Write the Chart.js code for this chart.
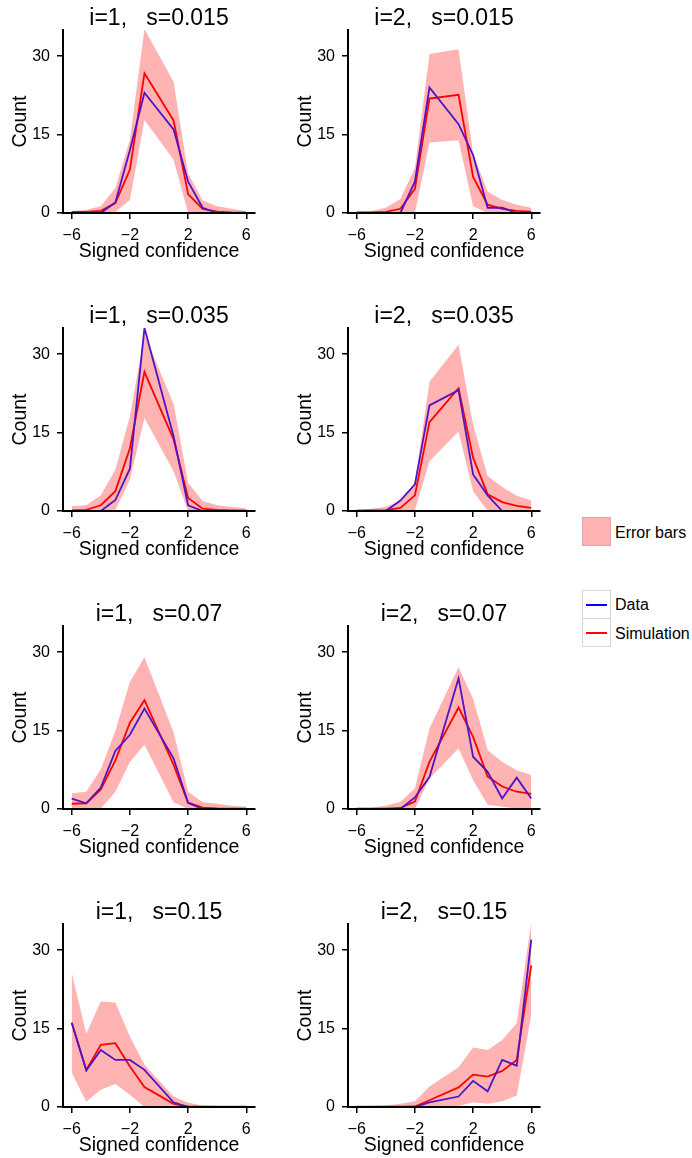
<!DOCTYPE html>
<html lang="en">
<head>
    <meta charset="UTF-8">
    <title>Signed confidence histograms</title>
    <script src="https://cdn.jsdelivr.net/npm/chart.js"></script>
    <style>
        body {
            margin: 0;
            width: 692px;
            height: 1158px;
            background: #fff;
            position: relative;
            overflow: hidden;
            font-family: "Liberation Sans", Arial, sans-serif;
        }
        canvas.panel {
            position: absolute;
        }
        .legend-text {
            position: absolute;
            left: 615px;
            font-size: 16px;
            line-height: 16px;
            color: #000;
            white-space: nowrap;
        }
        #patch {
            position: absolute;
            left: 582px; top: 517px;
            width: 27px; height: 27px;
            background: #ffb3b3;
            border: 1px solid #e3a3a3;
        }
        .line-box {
            position: absolute;
            left: 582px;
            width: 27px; height: 27px;
            border: 1px solid #d6d6d6;
        }
        .line-box span {
            position: absolute;
            left: 3px; right: 3px; top: 13px;
            height: 2px;
        }
    </style>
</head>
<body>
    <div id="patch"></div>
    <div class="legend-text" style="top:525px">Error bars</div>

    <div class="line-box" style="top:590px"><span style="background:#0000ff"></span></div>
    <div class="line-box" style="top:618px"><span style="background:#ff0000"></span></div>
    <div class="legend-text" style="top:597px">Data</div>
    <div class="legend-text" style="top:626px">Simulation</div>

    <script>
        // x positions (no zero bin)
        const confLevels = [-6, -5, -4, -3, -2, -1, 1, 2, 3, 4, 5, 6];
        const xTicks = [-6, -2, 2, 6];
        const yTicks = [0, 15, 30];

        const panelTitles = [
            'i=1,   s=0.015', 'i=2,   s=0.015',
            'i=1,   s=0.035', 'i=2,   s=0.035',
            'i=1,   s=0.07',  'i=2,   s=0.07',
            'i=1,   s=0.15',  'i=2,   s=0.15'
        ];

        const dataCounts = [
            [0, 0, 0, 2, 12, 23, 16, 6, 1, 0, 0, 0],
            [0, 0, 0, 0, 6, 24, 17, 11.1, 1, 1, 0, 0],
            [0, 0, 0, 2.1, 8.1, 35, 14.3, 1.1, 0, 0, 0, 0],
            [0, 0, 0, 2, 5.1, 20.2, 23.1, 7, 3, 0, 0, 0],
            [2, 1.1, 4.1, 11.1, 14.2, 19.2, 9.7, 1.2, 0, 0, 0, 0],
            [0, 0, 0, 0, 2.2, 6.1, 25, 10, 7.1, 2, 6, 2],
            [16.1, 7, 10.9, 9, 9, 7.1, 0.9, 0, 0, 0, 0, 0],
            [0, 0, 0, 0, 0, 0.9, 2, 5, 3, 9, 7.9, 32]
        ];

        const simCounts = [
            [0.2, 0.2, 0.4, 1.9, 8.3, 26.7, 17.7, 3.6, 0.8, 0.25, 0.1, 0.05],
            [0.1, 0.1, 0.2, 0.8, 4.6, 21.9, 22.6, 6.9, 1.6, 0.8, 0.4, 0.25],
            [0.1, 0.2, 1.1, 3.8, 12, 26.6, 13.7, 2.5, 0.45, 0.2, 0.1, 0.05],
            [0.05, 0.1, 0.15, 0.6, 3, 17, 23.5, 10.2, 3.2, 1.7, 1, 0.6],
            [1, 1.1, 3.75, 9.3, 16.5, 20.8, 8.5, 1.2, 0.25, 0.1, 0.05, 0.05],
            [0.05, 0.05, 0.05, 0.2, 1.4, 9, 19.4, 13.8, 6.2, 4.3, 3.3, 2.9],
            [16.1, 7.1, 11.9, 12.2, 7.75, 3.8, 0.6, 0.1, 0.05, 0.05, 0.05, 0.05],
            [0.05, 0.05, 0.05, 0.05, 0.1, 1.3, 3.75, 6.2, 5.8, 6.9, 9, 27.1]
        ];

        const bandHigh = [
            [0.4, 0.6, 1.3, 4.8, 14, 35.2, 25.1, 7.6, 2.4, 1.3, 0.8, 0.4],
            [0.25, 0.4, 1, 2.7, 8.6, 30.4, 31.3, 11.4, 4.1, 2.5, 1.6, 1],
            [0.9, 1.1, 3, 7.9, 18.1, 33.8, 20.5, 5.4, 1.9, 1.1, 0.8, 0.5],
            [0.25, 0.45, 0.8, 1.8, 5.4, 24.7, 31.8, 16.5, 6.7, 4.6, 2.9, 2],
            [3, 3.3, 7.6, 14.9, 24.3, 29, 14.7, 3.3, 1.3, 1, 0.6, 0.45],
            [0.25, 0.25, 0.6, 1.4, 3.9, 15.4, 27.1, 21.1, 11.3, 9, 7.4, 6.5],
            [25.7, 14, 20.2, 20, 13.5, 8.1, 2, 0.8, 0.3, 0.2, 0.2, 0.2],
            [0.1, 0.2, 0.3, 0.6, 1.1, 3.9, 7.6, 11.4, 10.9, 12.8, 16, 35.4]
        ];

        const bandLow = [
            [0, 0, 0, 0.2, 2.5, 17.8, 10.2, 0, 0, 0, 0, 0],
            [0, 0, 0, 0, 0, 13.5, 13.9, 1.3, 0, 0, 0, 0],
            [0, 0, 0, 0.2, 6, 17.8, 7.6, 0, 0, 0, 0, 0],
            [0, 0, 0, 0, 0.1, 9.5, 15.2, 3.8, 0, 0, 0, 0],
            [0.2, 0, 0.1, 3.3, 9, 12.3, 1.3, 0, 0, 0, 0, 0],
            [0, 0, 0, 0, 0, 5.8, 11.6, 5.5, 0.8, 0.45, 0.1, 0],
            [6.6, 1, 3.3, 4.4, 2.35, 0, 0, 0, 0, 0, 0, 0],
            [0, 0, 0, 0, 0, 0, 0.2, 0.9, 0.6, 1.1, 2.2, 17.6]
        ];

        const FONT = '"Liberation Sans", Arial, sans-serif';
        const DATA_COLOR = '#5014c8';
        const SIM_COLOR = '#ff0000';
        const BAND_COLOR = '#ffb3b3';

        const W = 270, H = 264;
        const colLeft = [0, 285];
        const rowTop = [0, 298, 596, 894];

        function pts(values) {
            return values.map((v, k) => ({ x: confLevels[k], y: v }));
        }

        function makePanel(idx) {
            const canvas = document.createElement('canvas');
            canvas.className = 'panel';
            canvas.width = W;
            canvas.height = H;
            canvas.style.left = colLeft[idx % 2] + 'px';
            canvas.style.top = rowTop[Math.floor(idx / 2)] + 'px';
            document.body.appendChild(canvas);

            const axisCommon = {
                grid: { drawOnChartArea: false, drawTicks: true, tickLength: 6, color: '#000', lineWidth: 1.5 },
                border: { display: true, color: '#000', width: 2, z: 1 },
                ticks: { color: '#000', font: { family: FONT, size: 16 } }
            };

            new Chart(canvas.getContext('2d'), {
                type: 'line',
                data: {
                    datasets: [
                        { label: 'Data', data: pts(dataCounts[idx]), borderColor: DATA_COLOR, borderWidth: 1.8, pointRadius: 0, tension: 0, fill: false },
                        { label: 'Simulation', data: pts(simCounts[idx]), borderColor: SIM_COLOR, borderWidth: 1.8, pointRadius: 0, tension: 0, fill: false },
                        { label: 'upper', data: pts(bandHigh[idx]), borderWidth: 0, borderColor: 'rgba(0,0,0,0)', pointRadius: 0, tension: 0, fill: '+1', backgroundColor: BAND_COLOR },
                        { label: 'lower', data: pts(bandLow[idx]), borderWidth: 0, borderColor: 'rgba(0,0,0,0)', pointRadius: 0, tension: 0, fill: false }
                    ]
                },
                options: {
                    responsive: false,
                    animation: false,
                    events: [],
                    layout: { padding: { left: 0, right: 15, top: 0, bottom: 0 } },
                    plugins: {
                        legend: { display: false },
                        tooltip: { enabled: false },
                        title: {
                            display: true,
                            text: panelTitles[idx],
                            fullSize: false,
                            color: '#000',
                            font: { family: FONT, size: 23, weight: 'normal', lineHeight: 1 },
                            padding: { top: 7, bottom: 0 }
                        }
                    },
                    scales: {
                        x: {
                            ...axisCommon,
                            type: 'linear',
                            min: -6.6,
                            max: 6.6,
                            ticks: { ...axisCommon.ticks, padding: 7, maxRotation: 0, callback: v => String(v).replace('-', '\u2212') },
                            afterBuildTicks: s => { s.ticks = xTicks.map(v => ({ value: v })); },
                            afterFit: s => { s.height = H - 213; },
                            title: {
                                display: true,
                                text: 'Signed confidence',
                                color: '#000',
                                font: { family: FONT, size: 19.5, lineHeight: 1.2 },
                                padding: { top: 0, bottom: 1 }
                            }
                        },
                        y: {
                            ...axisCommon,
                            min: 0,
                            max: 35,
                            ticks: { ...axisCommon.ticks, padding: 7 },
                            afterBuildTicks: s => { s.ticks = yTicks.map(v => ({ value: v })); },
                            afterFit: s => { s.width = 63; },
                            title: {
                                display: true,
                                text: 'Count',
                                color: '#000',
                                font: { family: FONT, size: 19.5, lineHeight: 1.2 },
                                padding: { top: 8.5, bottom: 0 }
                            }
                        }
                    }
                }
            });
        }

        for (let i = 0; i < panelTitles.length; i++) {
            makePanel(i);
        }
    </script>
</body>
</html>
